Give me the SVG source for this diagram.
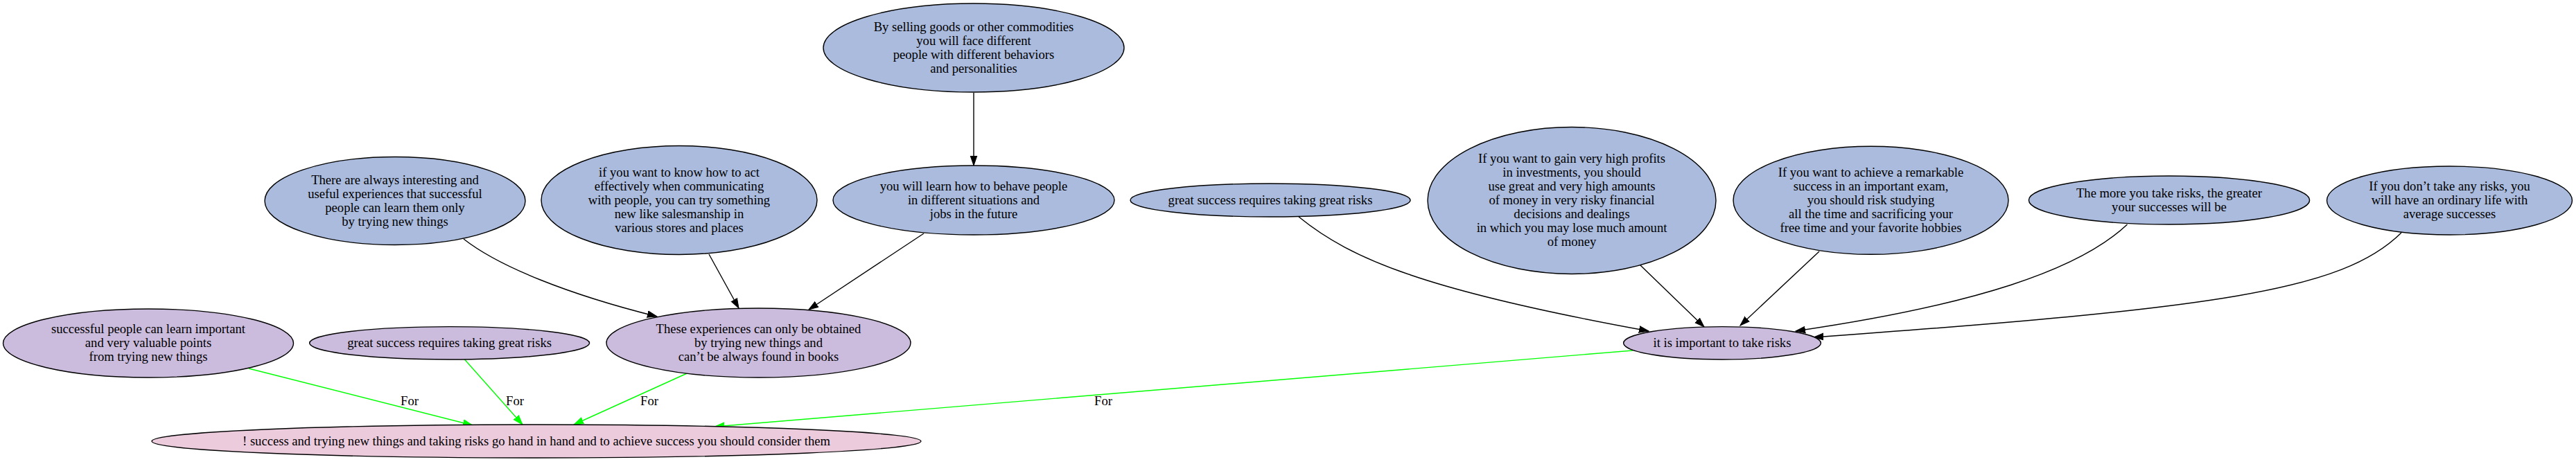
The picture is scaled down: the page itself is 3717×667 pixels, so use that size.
<svg xmlns="http://www.w3.org/2000/svg" width="3717" height="667" viewBox="0 0 3717 667">
<style>
.n ellipse{stroke:#000;stroke-width:1.4}
.b ellipse{fill:#aabbdd}
.p ellipse{fill:#cbbcdd}
.k ellipse{fill:#eccbdd}
text{font-family:"Liberation Serif","Times New Roman",serif;font-size:18.6px;fill:#000;text-anchor:middle}
.e path{fill:none;stroke-width:1.4}
.blk{stroke:#000}
.grn{stroke:#00ff00}
</style>
<defs>
<marker id="ab" markerUnits="userSpaceOnUse" markerWidth="16" markerHeight="12" refX="14" refY="6" orient="auto"><path d="M0,1.2 L14,6 L0,10.8 Z" fill="#000" stroke="#000" stroke-width="1"/></marker>
<marker id="ag" markerUnits="userSpaceOnUse" markerWidth="16" markerHeight="12" refX="14" refY="6" orient="auto"><path d="M0,1.2 L14,6 L0,10.8 Z" fill="#00ff00" stroke="#00ff00" stroke-width="1"/></marker>
</defs>
<rect width="3717" height="667" fill="#fff"/>
<g id="edges" class="e">
<path class="grn" d="M359,532 L682,614" marker-end="url(#ag)"/>
<path class="grn" d="M670.5,519 L754,613" marker-end="url(#ag)"/>
<path class="grn" d="M993.5,538 L828,613" marker-end="url(#ag)"/>
<path class="grn" d="M2356,506 L1031,616" marker-end="url(#ag)"/>
<path class="blk" d="M669,345 C720,385 820,425 948,457" marker-end="url(#ab)"/>
<path class="blk" d="M1023,367 L1066,445" marker-end="url(#ab)"/>
<path class="blk" d="M1333,337 L1167,447" marker-end="url(#ab)"/>
<path class="blk" d="M1405,134 L1405,239" marker-end="url(#ab)"/>
<path class="blk" d="M1874,313 C1950,375 2060,420 2379,478" marker-end="url(#ab)"/>
<path class="blk" d="M2367,383 L2459,472" marker-end="url(#ab)"/>
<path class="blk" d="M2625,363 L2511,470" marker-end="url(#ab)"/>
<path class="blk" d="M3069.5,324 C3000,390 2850,440 2591,478" marker-end="url(#ab)"/>
<path class="blk" d="M3465,336 C3380,420 3200,445 2617,487" marker-end="url(#ab)"/>
<text x="591" y="585">For</text>
<text x="743" y="585">For</text>
<text x="937" y="585">For</text>
<text x="1592" y="585">For</text>
</g>
<g id="n1" class="n b"><ellipse cx="1405" cy="69" rx="217" ry="64"/>
<text x="1405" y="45">By selling goods or other commodities</text>
<text x="1405" y="65">you will face different</text>
<text x="1405" y="85">people with different behaviors</text>
<text x="1405" y="105">and personalities</text></g>
<g id="n2" class="n b"><ellipse cx="1405" cy="289" rx="203" ry="50"/>
<text x="1405" y="275">you will learn how to behave people</text>
<text x="1405" y="295">in different situations and</text>
<text x="1405" y="315">jobs in the future</text></g>
<g id="n3" class="n b"><ellipse cx="570" cy="290" rx="188" ry="63.5"/>
<text x="570" y="266">There are always interesting and</text>
<text x="570" y="286">useful experiences that successful</text>
<text x="570" y="306">people can learn them only</text>
<text x="570" y="326">by trying new things</text></g>
<g id="n4" class="n b"><ellipse cx="980" cy="289" rx="199" ry="78.5"/>
<text x="980" y="255">if you want to know how to act</text>
<text x="980" y="275">effectively when communicating</text>
<text x="980" y="295">with people, you can try something</text>
<text x="980" y="315">new like salesmanship in</text>
<text x="980" y="335">various stores and places</text></g>
<g id="n5" class="n p"><ellipse cx="1094.5" cy="495" rx="219.5" ry="50"/>
<text x="1094.5" y="481">These experiences can only be obtained</text>
<text x="1094.5" y="501">by trying new things and</text>
<text x="1094.5" y="521">can’t be always found in books</text></g>
<g id="n6" class="n p"><ellipse cx="214" cy="495.5" rx="209.5" ry="49.5"/>
<text x="214" y="481">successful people can learn important</text>
<text x="214" y="501">and very valuable points</text>
<text x="214" y="521">from trying new things</text></g>
<g id="n7" class="n p"><ellipse cx="648.6" cy="495.3" rx="202" ry="23.7"/>
<text x="648.6" y="501">great success requires taking great risks</text></g>
<g id="n8" class="n k"><ellipse cx="774" cy="637" rx="555" ry="24"/>
<text x="774" y="643">! success and trying new things and taking risks go hand in hand and to achieve success you should consider them</text></g>
<g id="n9" class="n b"><ellipse cx="1833" cy="289" rx="202" ry="24"/>
<text x="1833" y="295">great success requires taking great risks</text></g>
<g id="n10" class="n b"><ellipse cx="2268" cy="289.5" rx="208" ry="106"/>
<text x="2268" y="235">If you want to gain very high profits</text>
<text x="2268" y="255">in investments, you should</text>
<text x="2268" y="275">use great and very high amounts</text>
<text x="2268" y="295">of money in very risky financial</text>
<text x="2268" y="315">decisions and dealings</text>
<text x="2268" y="335">in which you may lose much amount</text>
<text x="2268" y="355">of money</text></g>
<g id="n11" class="n b"><ellipse cx="2699.5" cy="289.3" rx="198.5" ry="78"/>
<text x="2699.5" y="255">If you want to achieve a remarkable</text>
<text x="2699.5" y="275">success in an important exam,</text>
<text x="2699.5" y="295">you should risk studying</text>
<text x="2699.5" y="315">all the time and sacrificing your</text>
<text x="2699.5" y="335">free time and your favorite hobbies</text></g>
<g id="n12" class="n b"><ellipse cx="3130" cy="289" rx="202.6" ry="35"/>
<text x="3130" y="285">The more you take risks, the greater</text>
<text x="3130" y="305">your successes will be</text></g>
<g id="n13" class="n b"><ellipse cx="3534.5" cy="289.5" rx="177" ry="49.5"/>
<text x="3534.5" y="275">If you don’t take any risks, you</text>
<text x="3534.5" y="295">will have an ordinary life with</text>
<text x="3534.5" y="315">average successes</text></g>
<g id="n14" class="n p"><ellipse cx="2485" cy="495.3" rx="142.4" ry="23.7"/>
<text x="2485" y="501">it is important to take risks</text></g>
</svg>
